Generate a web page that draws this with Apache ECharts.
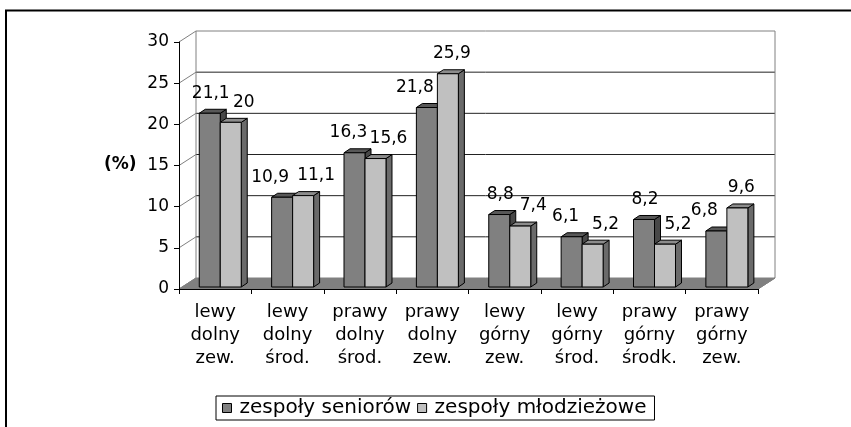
<!DOCTYPE html>
<html>
<head>
<meta charset="utf-8">
<script src="https://cdn.jsdelivr.net/npm/echarts@6/dist/echarts.min.js"></script>
<style>
html,body{margin:0;padding:0;background:#fff;}
#chart{width:851px;height:427px;}
</style>
</head>
<body>
<div id="chart"></div>
<script>
var categories = ['lewy\ndolny\nzew.', 'lewy\ndolny\nśrod.', 'prawy\ndolny\nśrod.', 'prawy\ndolny\nzew.', 'lewy\ngórny\nzew.', 'lewy\ngórny\nśrod.', 'prawy\ngórny\nśrodk.', 'prawy\ngórny\nzew.'];
var seniors = [21.1, 10.9, 16.3, 21.8, 8.8, 6.1, 8.2, 6.8];
var youth = [20, 11.1, 15.6, 25.9, 7.4, 5.2, 5.2, 9.6];
var seriesNames = ['zespoły seniorów', 'zespoły młodzieżowe'];
var yTicks = [0, 5, 10, 15, 20, 25, 30];

var FONT = 'DejaVu Sans';
var DEPTH_X = 17, DEPTH_Y = -11;
var BAR_DX = 6, BAR_DY = -4;
var fmt = function (v) { return String(v).replace('.', ','); };

var chart = echarts.init(document.getElementById('chart'), null, {renderer: 'canvas'});

function wallRender(params, api) {
  var n = categories.length;
  var band = api.size([1, 0])[0];
  var x0 = api.coord([0, 0])[0] - band / 2;
  var x1 = api.coord([n - 1, 0])[0] + band / 2;
  var yMin = api.coord([0, yTicks[0]])[1];
  var yMax = api.coord([0, yTicks[yTicks.length - 1]])[1];
  var children = [];
  children.push({type: 'polygon', shape: {points: [[x0, yMin], [x1, yMin], [x1 + DEPTH_X, yMin + DEPTH_Y], [x0 + DEPTH_X, yMin + DEPTH_Y]]},
    style: {fill: '#808080', stroke: '#808080', lineWidth: 1}});
  yTicks.forEach(function (t) {
    var y = api.coord([0, t])[1];
    if (t !== yTicks[0] && t !== yTicks[yTicks.length - 1]) {
      children.push({type: 'line', shape: {x1: x0 + DEPTH_X, y1: y + DEPTH_Y, x2: x1 + DEPTH_X, y2: y + DEPTH_Y},
        style: {stroke: '#222', lineWidth: 1}});
    }
    children.push({type: 'line', shape: {x1: x0, y1: y, x2: x0 + DEPTH_X, y2: y + DEPTH_Y},
      style: {stroke: '#808080', lineWidth: 1}});
  });
  children.push({type: 'polyline', shape: {points: [[x0 + DEPTH_X, yMin + DEPTH_Y], [x0 + DEPTH_X, yMax + DEPTH_Y], [x1 + DEPTH_X, yMax + DEPTH_Y], [x1 + DEPTH_X, yMin + DEPTH_Y], [x1, yMin]]},
    style: {stroke: '#808080', fill: null, lineWidth: 1}});
  return {type: 'group', children: children};
}

function barRender(params, api) {
  var si = params.seriesIndex - 1;
  var i = api.value(0);
  var v = api.value(1);
  var band = api.size([1, 0])[0];
  var base = api.coord([i, 0]);
  var topPt = api.coord([i, v]);
  var bw = band * 0.29;
  var cx = base[0] + band * 0.07;
  var x = si === 0 ? cx - bw : cx;
  var bottom = base[1] - 2;
  var top = topPt[1] - 2;
  var fills = si === 0 ? ['#808080', '#585858', '#484848'] : ['#c0c0c0', '#8c8c8c', '#6a6a6a'];
  var st = function (f) { return {fill: f, stroke: '#000', lineWidth: 1}; };
  var s = seniors[i], y = youth[i];
  var dx;
  if (si === 0) { dx = y > s ? -12 : (s - y < 1 ? -6 : 1); } else { dx = (y - s) < 1 ? 13 : 4; }
  return {type: 'group', children: [
    {type: 'polygon', shape: {points: [[x + bw, top], [x + bw + BAR_DX, top + BAR_DY], [x + bw + BAR_DX, bottom + BAR_DY], [x + bw, bottom]]}, style: st(fills[2])},
    {type: 'polygon', shape: {points: [[x, top], [x + bw, top], [x + bw + BAR_DX, top + BAR_DY], [x + BAR_DX, top + BAR_DY]]}, style: st(fills[1])},
    {type: 'rect', shape: {x: x, y: top, width: bw, height: bottom - top}, style: st(fills[0])},
    {type: 'text', x: x + bw / 2 + dx, y: top - 20,
      style: {text: fmt(v), fill: '#000', font: '17px "' + FONT + '"', align: 'center', verticalAlign: 'middle'}}
  ]};
}

var option = {
  backgroundColor: '#fff',
  animation: false,
  grid: {left: 179, right: 93, top: 42, bottom: 138},
  xAxis: {
    type: 'category', data: categories, z: 10,
    axisLine: {lineStyle: {color: '#000', width: 1}},
    axisTick: {show: true, length: 5, lineStyle: {color: '#000'}},
    axisLabel: {color: '#000', fontFamily: FONT, fontSize: 18, lineHeight: 23, margin: 12, interval: 0}
  },
  yAxis: {
    type: 'value', min: yTicks[0], max: yTicks[yTicks.length - 1], interval: 5, z: 10,
    axisLine: {show: true, lineStyle: {color: '#000', width: 1}},
    axisTick: {show: true, length: 5, lineStyle: {color: '#000'}},
    axisLabel: {color: '#000', fontFamily: FONT, fontSize: 17, margin: 10},
    splitLine: {show: false}
  },
  legend: {
    data: seriesNames, left: 216, top: 396, orient: 'horizontal',
    borderColor: '#000', borderWidth: 1, padding: [2, 8, 2, 6],
    itemGap: 6, itemWidth: 9, itemHeight: 9, icon: 'rect',
    itemStyle: {borderColor: '#000', borderWidth: 1},
    textStyle: {color: '#000', fontFamily: FONT, fontSize: 20, padding: [0, 0, 0, 3]}
  },
  graphic: [
    {type: 'line', shape: {x1: 5, y1: 10.5, x2: 851, y2: 10.5}, style: {stroke: '#000', lineWidth: 2}},
    {type: 'line', shape: {x1: 6, y1: 10, x2: 6, y2: 427}, style: {stroke: '#000', lineWidth: 2}},
    {type: 'text', left: 104, top: 156, style: {text: '(%)', fill: '#000', font: 'bold 17px "' + FONT + '"'}}
  ],
  series: [
    {type: 'custom', name: 'walls', silent: true, z: 1, clip: false, renderItem: wallRender, data: [[0, 0]], encode: {x: 0, y: 1}},
    {type: 'custom', name: seriesNames[0], color: '#808080', z: 3, clip: false, renderItem: barRender,
      data: seniors.map(function (v, i) { return [i, v]; }), encode: {x: 0, y: 1}},
    {type: 'custom', name: seriesNames[1], color: '#c0c0c0', z: 4, clip: false, renderItem: barRender,
      data: youth.map(function (v, i) { return [i, v]; }), encode: {x: 0, y: 1}}
  ]
};
chart.setOption(option);
</script>
</body>
</html>
